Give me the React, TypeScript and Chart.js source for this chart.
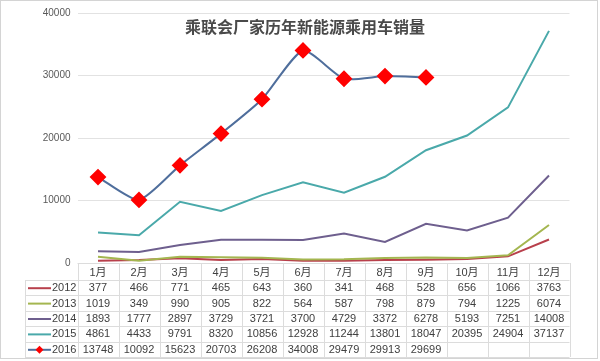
import React, { useEffect, useRef } from "react";
import { Chart, registerables } from "chart.js";

Chart.register(...registerables);

const TITLE = "乘联会厂家历年新能源乘用车销量";
const months = ["1月", "2月", "3月", "4月", "5月", "6月", "7月", "8月", "9月", "10月", "11月", "12月"];
const yTicks = [0, 10000, 20000, 30000, 40000];

const s2012 = [377, 466, 771, 465, 643, 360, 341, 468, 528, 656, 1066, 3763];
const s2013 = [1019, 349, 990, 905, 822, 564, 587, 798, 879, 794, 1225, 6074];
const s2014 = [1893, 1777, 2897, 3729, 3721, 3700, 4729, 3372, 6278, 5193, 7251, 14008];
const s2015 = [4861, 4433, 9791, 8320, 10856, 12928, 11244, 13801, 18047, 20395, 24904, 37137];
const s2016: (number | null)[] = [13748, 10092, 15623, 20703, 26208, 34008, 29479, 29913, 29699, null, null, null];

const seriesNames = ["2012", "2013", "2014", "2015", "2016"];
const seriesData = [s2012, s2013, s2014, s2015, s2016];
const seriesColors = ["#b8404c", "#a4b650", "#6e5f8e", "#4aa9aa", "#4f6e9c"];

const FONT = '"Liberation Sans", "Noto Sans CJK SC", sans-serif';

const tablePlugin = {
  id: "dataTable",
  afterDraw(chart: any) {
    const ctx = chart.ctx;
    const xs = chart.scales.x;
    const ca = chart.chartArea;
    const n = months.length;
    const c0 = xs.getPixelForValue(0);
    const c1 = xs.getPixelForValue(1);
    const colW = c1 - c0;
    const gridLeft = c0 - colW / 2;
    const gridRight = xs.getPixelForValue(n - 1) + colW / 2;
    const labelLeft = 25;
    const top = ca.bottom;
    const headerH = 17;
    const rowH = 15.4;
    ctx.save();
    // title
    ctx.fillStyle = "#4a4a4a";
    ctx.font = 'bold 16px "Noto Sans CJK SC", sans-serif';
    ctx.textAlign = "center";
    ctx.textBaseline = "middle";
    ctx.fillText(TITLE, 305, 27);

    // grid lines
    ctx.strokeStyle = "#dcdcdc";
    ctx.lineWidth = 1;
    const bottom = top + headerH + rowH * seriesNames.length;
    ctx.beginPath();
    ctx.moveTo(gridLeft, top + 0.5);
    ctx.lineTo(gridRight, top + 0.5);
    for (let r = 0; r <= seriesNames.length; r++) {
      const y = Math.round(top + headerH + rowH * r) + 0.5;
      ctx.moveTo(labelLeft, y);
      ctx.lineTo(gridRight, y);
    }
    for (let i = 0; i <= n; i++) {
      const x = Math.round(gridLeft + colW * i) + 0.5;
      ctx.moveTo(x, top);
      ctx.lineTo(x, bottom);
    }
    ctx.moveTo(labelLeft + 0.5, top + headerH);
    ctx.lineTo(labelLeft + 0.5, bottom);
    ctx.stroke();

    // header
    ctx.fillStyle = "#404040";
    ctx.font = '11px ' + FONT;
    ctx.textAlign = "center";
    ctx.textBaseline = "middle";
    months.forEach((m, i) => {
      ctx.fillText(m, xs.getPixelForValue(i), top + headerH / 2 + 1);
    });

    // rows
    seriesNames.forEach((name, r) => {
      const yc = top + headerH + rowH * r + rowH / 2 + 0.5;
      ctx.strokeStyle = seriesColors[r];
      ctx.lineWidth = 2;
      ctx.beginPath();
      ctx.moveTo(28, yc);
      ctx.lineTo(51, yc);
      ctx.stroke();
      if (r === 4) {
        ctx.fillStyle = "#ff0000";
        ctx.beginPath();
        ctx.moveTo(39.5, yc - 4);
        ctx.lineTo(43.5, yc);
        ctx.lineTo(39.5, yc + 4);
        ctx.lineTo(35.5, yc);
        ctx.closePath();
        ctx.fill();
      }
      ctx.fillStyle = "#404040";
      ctx.textAlign = "left";
      ctx.fillText(name, 52, yc);
      ctx.textAlign = "center";
      seriesData[r].forEach((v, i) => {
        if (v === null || v === undefined) return;
        ctx.fillText(String(v), xs.getPixelForValue(i), yc);
      });
    });

    // outer frame
    ctx.strokeStyle = "#d4d4d4";
    ctx.lineWidth = 1;
    ctx.strokeRect(0.5, 0.5, 597, 358);
    ctx.restore();
  },
};

export default function App() {
  const ref = useRef<HTMLCanvasElement>(null);
  useEffect(() => {
    if (!ref.current) return;
    const chart = new Chart(ref.current, {
      type: "line",
      data: {
        labels: months,
        datasets: seriesNames.map((name, i) => ({
          label: name,
          data: seriesData[i] as any,
          borderColor: seriesColors[i],
          backgroundColor: seriesColors[i],
          borderWidth: 2,
          pointRadius: i === 4 ? 7 : 0,
          pointHoverRadius: i === 4 ? 7 : 0,
          pointStyle: "rectRot",
          pointBackgroundColor: "#ff0000",
          pointBorderColor: "#ff0000",
          tension: i === 4 ? 0.2 : 0,
          order: 5 - i,
        })),
      },
      options: {
        responsive: false,
        animation: false,
        layout: { padding: { left: 0, right: 30.5, top: 5, bottom: 98 } },
        plugins: { legend: { display: false }, title: { display: false }, tooltip: { enabled: false } },
        scales: {
          x: { type: "category", offset: true, display: false },
          y: {
            min: 0,
            max: 40000,
            afterBuildTicks: (s: any) => {
              s.ticks = yTicks.map((v) => ({ value: v }));
            },
            afterFit: (s: any) => {
              s.width = 77.5;
            },
            ticks: {
              color: "#595959",
              font: { size: 10, family: FONT },
              padding: 7,
              callback: (v: any) => String(v),
            },
            grid: { color: "#e2e2e2", drawTicks: false },
            border: { display: false },
          },
        },
      },
      plugins: [tablePlugin],
    });
    return () => chart.destroy();
  }, []);
  return (
    <div style={{ position: "absolute", left: 0, top: 0, width: 600, height: 361, background: "#fff" }}>
      <canvas ref={ref} width={600} height={361} style={{ display: "block" }} />
    </div>
  );
}
